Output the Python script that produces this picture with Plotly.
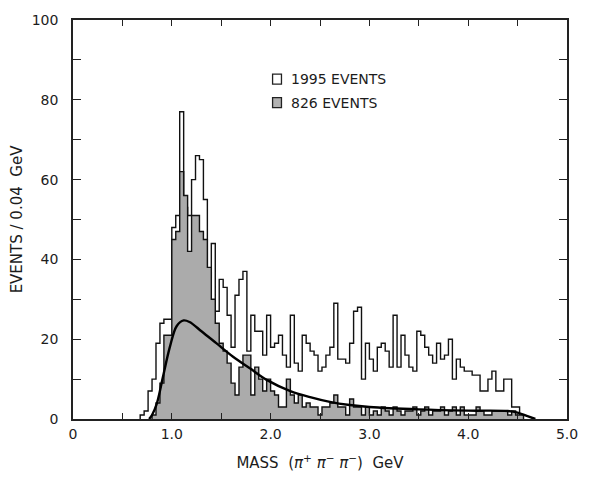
"""
Espectro de massa (pi+ pi- pi-): histograma aberto (1995 eventos),
histograma sombreado (826 eventos) e curva de fundo.
"""

import numpy as np
import plotly.graph_objects as go

# Bins de 0.04 GeV
LARGURA_BIN = 0.04
INICIO_ABERTO = 0.68
INICIO_SOMBREADO = 0.80

# Histograma aberto (1995 eventos), a partir de 0.68 GeV
contagens_aberto = [
    1, 2, 7, 10, 19, 24, 25, 25, 48, 51,
    77, 53, 51, 60, 66, 65, 55, 35, 44, 27,
    35, 33, 26, 18, 31, 35, 37, 17, 26, 22,
    22, 16, 26, 18, 19, 21, 16, 13, 26, 14,
    12, 21, 19, 17, 16, 12, 13, 16, 18, 29,
    15, 15, 14, 19, 27, 28, 10, 19, 15, 12,
    18, 19, 17, 13, 26, 13, 21, 16, 13, 12,
    22, 21, 18, 16, 14, 19, 15, 16, 20, 10,
    15, 13, 12, 12, 11, 11, 7, 7, 10, 12,
    7, 7, 10, 10, 3, 3,
]

# Histograma sombreado (826 eventos), a partir de 0.80 GeV
contagens_sombreado = [
    1, 4, 9, 21, 21, 45, 47, 62, 56, 42,
    51, 51, 47, 45, 38, 30, 24, 19, 17, 14,
    9, 6, 13, 16, 16, 6, 13, 10, 7, 10,
    7, 6, 3, 3, 10, 6, 4, 6, 3, 4,
    3, 3, 1, 3, 3, 4, 6, 3, 3, 1,
    5, 3, 3, 1, 3, 1, 2, 1, 3, 2,
    1, 3, 2, 1, 2, 2, 3, 1, 2, 3,
    1, 2, 2, 3, 1, 2, 3, 1, 3, 1,
    1, 1, 3, 2, 1, 1, 2, 2, 2, 2,
    1, 2, 1, 1,
]

# Curva suave (fundo)
curva_massa = [0.77, 0.80, 0.85, 0.91, 0.98, 1.05, 1.12, 1.18, 1.30, 1.45,
               1.62, 1.79, 1.96, 2.20, 2.40, 2.60, 2.80, 3.00, 3.50, 4.00,
               4.40, 4.50, 4.60, 4.68]
curva_eventos = [0, 1, 4, 10.5, 18, 23.3, 24.7, 24.3, 22, 19,
                 15.6, 12.7, 9.8, 7, 5.5, 4.3, 3.5, 3.0, 2.4, 2.1,
                 2.0, 1.6, 0.7, 0]

ticks_x = [0, 1, 2, 3, 4, 5]
rotulos_x = ["0", "1.0", "2.0", "3.0", "4.0", "5.0"]
ticks_y = [0, 20, 40, 60, 80, 100]

legenda = ["1995 EVENTS", "826 EVENTS"]

COR_TEXTO = "#1c1c1c"
COR_SOMBRA = "#ababab"
FONTE = "DejaVu Sans"


def degraus(inicio, contagens):
    """Converte contagens por bin em um contorno em degraus fechado na base."""
    bordas = inicio + LARGURA_BIN * np.arange(len(contagens) + 1)
    x = np.concatenate([[bordas[0]], bordas])
    y = np.concatenate([[0], contagens, [0]])
    return x, y


def gerar_grafico(caminho_saida="out.html"):
    fig = go.Figure()

    # Histograma aberto
    xa, ya = degraus(INICIO_ABERTO, contagens_aberto)
    fig.add_trace(go.Scatter(
        x=xa, y=ya, mode="lines", line_shape="hv",
        line=dict(color="#111111", width=1.4),
        hoverinfo="skip",
    ))

    # Histograma sombreado
    xs, ys = degraus(INICIO_SOMBREADO, contagens_sombreado)
    fig.add_trace(go.Scatter(
        x=xs, y=ys, mode="lines", line_shape="hv",
        line=dict(color="#111111", width=1.4),
        fill="tozeroy", fillcolor=COR_SOMBRA,
        hoverinfo="skip",
    ))

    # Curva
    fig.add_trace(go.Scatter(
        x=curva_massa, y=curva_eventos, mode="lines", line_shape="spline",
        line=dict(color="#000000", width=2.4),
        hoverinfo="skip",
    ))

    # Legenda desenhada à mão (quadrado + texto)
    for i, (texto, cor) in enumerate(zip(legenda, ["white", "#b2b2b2"])):
        y_meio = 85.2 - 5.9 * i
        fig.add_shape(
            type="rect", xref="x", yref="y",
            x0=2.02, x1=2.11, y0=y_meio - 1.25, y1=y_meio + 1.25,
            line=dict(color="#222222", width=1.3), fillcolor=cor,
        )
        fig.add_annotation(
            x=2.19, y=y_meio, xref="x", yref="y", text=texto,
            showarrow=False, xanchor="left", yanchor="middle",
            font=dict(family=FONTE, size=14, color=COR_TEXTO),
        )

    eixo_comum = dict(
        showline=True, linecolor="#222222", linewidth=1.5, mirror="ticks",
        ticks="inside", tickcolor="#222222", tickwidth=1.2,
        showgrid=False, zeroline=False, automargin=False,
        tickfont=dict(family=FONTE, size=14, color=COR_TEXTO),
    )

    fig.update_xaxes(
        range=[0, 5], tickmode="array", tickvals=ticks_x, ticktext=rotulos_x,
        ticklen=6, ticklabelstandoff=1,
        minor=dict(tick0=0, dtick=0.5, ticks="inside", ticklen=6,
                   tickcolor="#222222", tickwidth=1.2),
        title=dict(
            text="MASS\u00a0\u00a0(<i>π</i><sup>+</sup>\u00a0<i>π</i><sup>\u2212</sup>"
                 "\u00a0<i>π</i><sup>\u2212</sup>)\u00a0\u00a0GeV",
            font=dict(family=FONTE, size=15, color=COR_TEXTO),
            standoff=17,
        ),
        **eixo_comum,
    )
    fig.update_yaxes(
        range=[0, 100], tickmode="array", tickvals=ticks_y,
        ticklen=8, ticklabelstandoff=10,
        minor=dict(tick0=0, dtick=10, ticks="inside", ticklen=8,
                   tickcolor="#222222", tickwidth=1.2),
        title=dict(
            text="EVENTS\u00a0/\u00a00.04\u00a0\u00a0GeV",
            font=dict(family=FONTE, size=15, color=COR_TEXTO),
            standoff=5,
        ),
        **eixo_comum,
    )

    # A página tem 8 px de margem no body; o tamanho já desconta isso
    fig.update_layout(
        width=583, height=471,
        margin=dict(l=65, r=24, t=12, b=60),
        paper_bgcolor="white", plot_bgcolor="white",
        showlegend=False,
        font=dict(family=FONTE, size=14, color=COR_TEXTO),
    )

    fig.write_html(caminho_saida)
    return caminho_saida


if __name__ == "__main__":
    gerar_grafico("out.html")
